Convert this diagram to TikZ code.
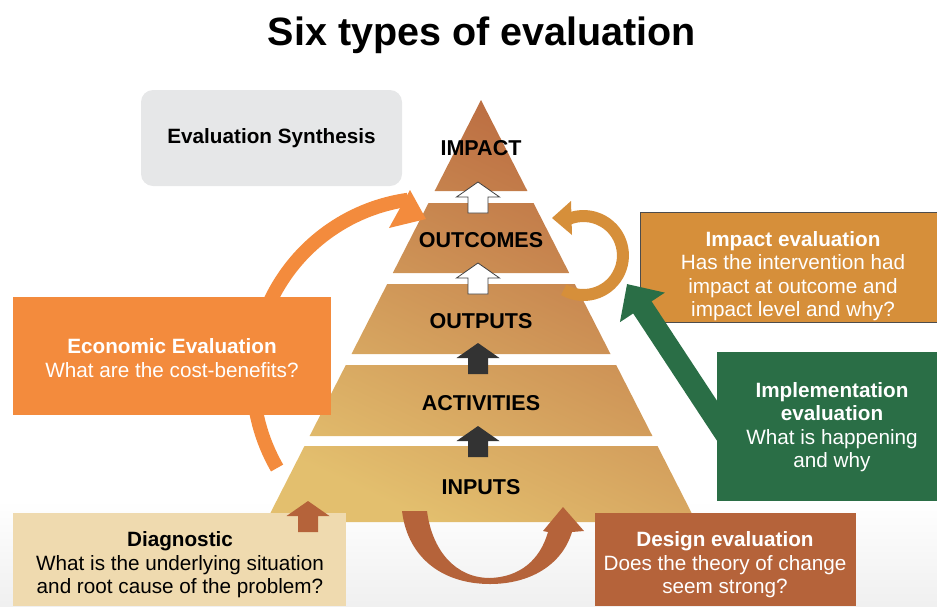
\documentclass[tikz,border=0pt]{standalone}
\usepackage{fontspec}
\setmainfont{Liberation Sans}
\usetikzlibrary{arrows.meta}
\definecolor{econ}{HTML}{F38B3D}
\definecolor{impc}{HTML}{D68F3A}
\definecolor{impl}{HTML}{2A6E46}
\definecolor{desg}{HTML}{B5633A}
\definecolor{diag}{HTML}{EFDAAF}
\definecolor{synth}{HTML}{E6E7E8}
\definecolor{pyrtop}{HTML}{BA6A40}
\definecolor{pyrbot}{HTML}{E3BF6E}
\definecolor{darkarr}{HTML}{333333}
\newcommand\tierarrow[2]{%
  \path[#1] (#2) -- ++(21.5,-15) -- ++(-11.5,0) -- ++(0,-16) -- ++(-20,0)
     -- ++(0,16) -- ++(-11.5,0) -- cycle;}
\begin{document}
\begin{tikzpicture}[x=1pt,y=1pt,
  boxtext/.style={font=\fontsize{20.7}{23.4}\selectfont, align=center, inner sep=0pt},
  tierlabel/.style={font=\fontsize{21.5}{24}\selectfont\bfseries, inner sep=0pt},
  panel/.style={inner sep=0pt, outer sep=0pt, anchor=north west},
  whitearr/.style={fill=white, draw=black!75, line width=0.8pt, line join=miter},
  darkarrow/.style={fill=darkarr},
  brownarrow/.style={fill=desg},
]
\useasboundingbox (0,0) rectangle (937,-606);
\shade[top color=white, bottom color=gray!12] (0,-500) rectangle (937,-606);

% title
\node[font=\fontsize{39.5}{44}\selectfont\bfseries, inner sep=0pt] (title) at (482,-35) {Six types of evaluation};

% synthesis box
\node[panel, fill=synth, rounded corners=12pt, minimum width=261pt, minimum height=96pt,
      font=\fontsize{20.7}{23.4}\selectfont\bfseries] (synth) at (141,-90) {Evaluation Synthesis};

% pyramid
\shade[top color=pyrtop, bottom color=pyrbot, shading angle=-25]
  (481,-100) -- (527.4,-191) -- (434.6,-191) -- cycle
  (428.5,-203) -- (533.5,-203) -- (569.2,-273) -- (392.8,-273) -- cycle
  (387.2,-284) -- (574.8,-284) -- (610.5,-354) -- (351.5,-354) -- cycle
  (345.8,-365) -- (616.2,-365) -- (652.4,-436) -- (309.6,-436) -- cycle
  (304.5,-446) -- (657.5,-446) -- (696.2,-522) -- (265.8,-522) -- cycle;

\node[tierlabel] (impact) at (481,-148) {IMPACT};
\node[tierlabel] (outcomes) at (481,-240) {OUTCOMES};
\node[tierlabel] (outputs) at (481,-321) {OUTPUTS};
\node[tierlabel] (activities) at (481,-403) {ACTIVITIES};
\node[tierlabel] (inputs) at (481,-487) {INPUTS};

% arrows between tiers
\coordinate (t1) at (478,-182);
\coordinate (t2) at (478,-263);
\coordinate (t3) at (478,-343);
\coordinate (t4) at (478,-426);
\coordinate (t5) at (308,-501);
\tierarrow{whitearr}{t1}
\tierarrow{whitearr}{t2}
\tierarrow{darkarrow}{t3}
\tierarrow{darkarrow}{t4}

% economic arc
\coordinate (econstart) at (277.1,-468);
\draw[econ, line width=14pt] (econstart) arc[start angle=210, end angle=98, radius=180pt];
\fill[econ] (410,-190) -- (426,-219) -- (389,-228) -- cycle;
\node[panel, fill=econ, minimum width=318pt, minimum height=118pt] (econbox) at (13,-297) {};
\node[boxtext, text=white] (econtext) at (172,-358) {\textbf{Economic Evaluation}\\What are the cost-benefits?};

% impact curl
\coordinate (curlstart) at (563.7,-289.7);
\draw[impc, line width=12pt] (curlstart) arc[start angle=240, end angle=473, radius=39.5pt];
\fill[impc] (552,-218) -- (571,-201) -- (572,-235) -- cycle;

% impact evaluation box
\node[panel, fill=impc, draw=black!70, line width=0.8pt, minimum width=300pt, minimum height=110pt] (impbox) at (640,-212) {};
\node[boxtext, text=white] (imptext) at (793,-276) {\textbf{Impact evaluation}\\Has the intervention had\\impact at outcome and\\impact level and why?};

% implementation arrow
\coordinate (gstart) at (756,-480);
\coordinate (gtip) at (627,-284);
\draw[impl, line width=22pt, -{Triangle[width=52pt,length=28pt]}] (gstart) -- (gtip);
\node[panel, fill=impl, minimum width=220pt, minimum height=149pt] (implbox) at (717,-352) {};
\node[boxtext, text=white] (impltext) at (832,-427) {\textbf{Implementation}\\\textbf{evaluation}\\What is happening\\and why};

% design crescent arrow
\fill[desg] (402,-511) .. controls (408,-560) and (445,-584) .. (490,-584)
  .. controls (530,-584) and (562,-565) .. (572,-532)
  -- (584,-531) -- (563,-507) -- (543,-531) -- (548,-532)
  .. controls (540,-560) and (520,-577) .. (490,-578)
  .. controls (455,-578) and (432,-550) .. (427,-511) -- cycle;
\node[panel, fill=desg, minimum width=261pt, minimum height=93pt] (desbox) at (595,-513) {};
\node[boxtext, text=white] (destext) at (725,-565) {\textbf{Design evaluation}\\Does the theory of change\\seem strong?};

% diagnostic
\node[panel, fill=diag, minimum width=333pt, minimum height=93pt] (diagbox) at (13,-513) {};
\node[boxtext, text=black] (diagtext) at (180,-565) {\textbf{Diagnostic}\\What is the underlying situation\\and root cause of the problem?};
\tierarrow{brownarrow}{t5}
\end{tikzpicture}
\end{document}
